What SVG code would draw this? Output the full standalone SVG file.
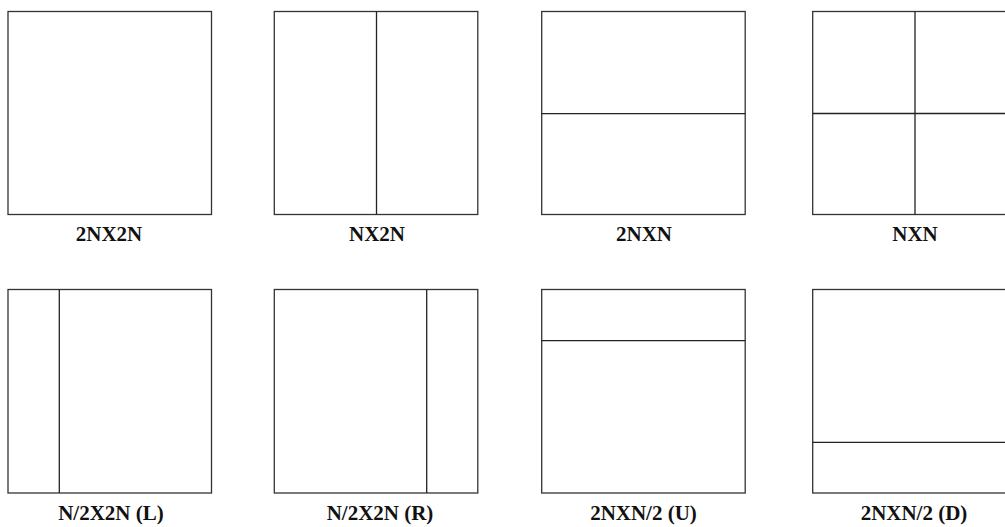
<svg xmlns="http://www.w3.org/2000/svg" width="1005" height="527" viewBox="0 0 1005 527">
<style>
.box{fill:#fff;stroke:#333;stroke-width:1.3}
.div{stroke:#222;stroke-width:1.3;fill:none}
.lbl{font-family:"Liberation Serif","Times New Roman",serif;font-weight:bold;font-size:21px;fill:#111;text-anchor:middle}
</style>
<rect width="1005" height="527" fill="#fff"/>
<g id="n1">
<rect class="box" x="8" y="11.5" width="203.5" height="203"/>
<text class="lbl" x="109" y="241">2NX2N</text>
</g>
<g id="n2">
<rect class="box" x="274.3" y="11.5" width="203.5" height="203"/>
<line class="div" x1="376.5" y1="11.5" x2="376.5" y2="214.5"/>
<text class="lbl" x="377" y="241">NX2N</text>
</g>
<g id="n3">
<rect class="box" x="541.7" y="11.5" width="203.5" height="203"/>
<line class="div" x1="541.7" y1="113.7" x2="745.2" y2="113.7"/>
<text class="lbl" x="644" y="241">2NXN</text>
</g>
<g id="n4">
<rect class="box" x="812.7" y="11.5" width="203.5" height="203"/>
<line class="div" x1="915" y1="11.5" x2="915" y2="214.5"/>
<line class="div" x1="812.7" y1="113.5" x2="1016" y2="113.5"/>
<text class="lbl" x="915" y="241">NXN</text>
</g>
<g id="n5">
<rect class="box" x="8" y="289.5" width="203.5" height="203.5"/>
<line class="div" x1="59.3" y1="289.5" x2="59.3" y2="493"/>
<text class="lbl" x="111" y="519.5">N/2X2N (L)</text>
</g>
<g id="n6">
<rect class="box" x="274.3" y="289.5" width="203.5" height="203.5"/>
<line class="div" x1="426.7" y1="289.5" x2="426.7" y2="493"/>
<text class="lbl" x="380" y="519.5">N/2X2N (R)</text>
</g>
<g id="n7">
<rect class="box" x="541.7" y="289.5" width="203.5" height="203.5"/>
<line class="div" x1="541.7" y1="340.7" x2="745.2" y2="340.7"/>
<text class="lbl" x="643.5" y="519.5">2NXN/2 (U)</text>
</g>
<g id="n8">
<rect class="box" x="812.7" y="289.5" width="203.5" height="203.5"/>
<line class="div" x1="812.7" y1="442.3" x2="1016" y2="442.3"/>
<text class="lbl" x="914" y="519.5">2NXN/2 (D)</text>
</g>
<g id="connectors"/>
</svg>
